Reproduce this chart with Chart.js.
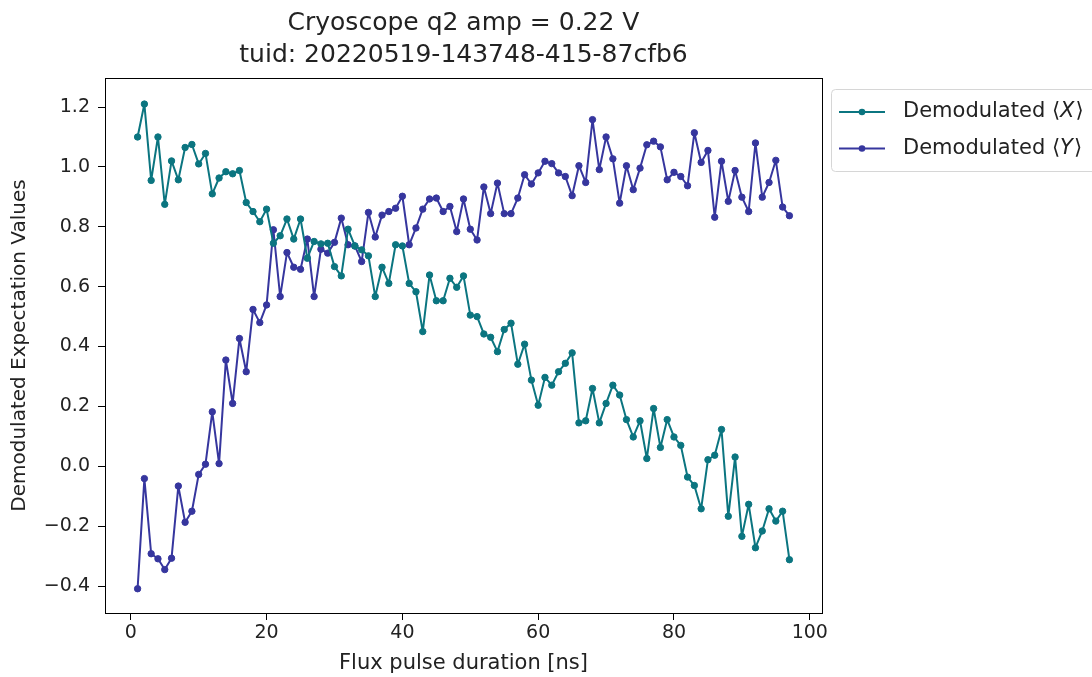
<!DOCTYPE html>
<html>
<head>
<meta charset="utf-8">
<script src="https://cdn.jsdelivr.net/npm/chart.js@4"></script>
<style>
    html, body { margin: 0; padding: 0; background: #fff; }
    #wrap { width: 1092px; height: 677px; }
</style>
</head>
<body>
<div id="wrap"><canvas id="cryoChart" width="1092" height="677"></canvas></div>
<script>
// Flux pulse durations (ns)
const durations = [];
for (let n = 1; n <= 97; n++) durations.push(n);

// Demodulated <X>
const demodX = [
    1.10, 1.21, 0.955, 1.10, 0.875, 1.02, 0.957, 1.065, 1.075, 1.01,
    1.045, 0.91, 0.963, 0.984, 0.977, 0.988, 0.881, 0.851, 0.817, 0.859,
    0.745, 0.77, 0.826, 0.759, 0.826, 0.695, 0.751, 0.743, 0.745, 0.667,
    0.636, 0.792, 0.736, 0.723, 0.703, 0.567, 0.665, 0.611, 0.74, 0.736,
    0.611, 0.583, 0.45, 0.639, 0.553, 0.553, 0.628, 0.598, 0.636, 0.505,
    0.50, 0.442, 0.431, 0.383, 0.457, 0.478, 0.341, 0.408, 0.288, 0.204,
    0.297, 0.271, 0.316, 0.344, 0.379, 0.145, 0.152, 0.26, 0.145, 0.21,
    0.271, 0.238, 0.156, 0.098, 0.152, 0.026, 0.193, 0.063, 0.156, 0.098,
    0.07, -0.036, -0.064, -0.142, 0.022, 0.037, 0.123, -0.167, 0.031, -0.234,
    -0.127, -0.272, -0.216, -0.142, -0.183, -0.15, -0.312
];

// Demodulated <Y>
const demodY = [
    -0.409, -0.041, -0.292, -0.309, -0.345, -0.307, -0.066, -0.187, -0.15, -0.027,
    0.007, 0.182, 0.009, 0.355, 0.21, 0.427, 0.316, 0.524, 0.48, 0.539,
    0.79, 0.567, 0.714, 0.665, 0.658, 0.759, 0.567, 0.725, 0.712, 0.748,
    0.829, 0.74, 0.736, 0.684, 0.848, 0.766, 0.839, 0.851, 0.862, 0.902,
    0.74, 0.796, 0.859, 0.893, 0.896, 0.851, 0.868, 0.784, 0.893, 0.792,
    0.756, 0.933, 0.844, 0.946, 0.844, 0.844, 0.896, 0.974, 0.943, 0.98,
    1.019, 1.011, 0.98, 0.968, 0.904, 1.004, 0.948, 1.158, 0.991, 1.10,
    1.027, 0.879, 1.004, 0.924, 0.996, 1.074, 1.086, 1.067, 0.957, 0.982,
    0.968, 0.937, 1.114, 1.015, 1.055, 0.832, 1.019, 0.885, 0.988, 0.899,
    0.851, 1.08, 0.899, 0.948, 1.022, 0.866, 0.837
];

const xTicks = [0, 20, 40, 60, 80, 100];
const yTicks = [-0.4, -0.2, 0.0, 0.2, 0.4, 0.6, 0.8, 1.0, 1.2];

const titleLines = ['Cryoscope q2 amp = 0.22 V', 'tuid: 20220519-143748-415-87cfb6'];
const seriesNames = ['X', 'Y'];
const seriesColors = ['#0b7580', '#36369e'];

const FONT = '"DejaVu Sans", sans-serif';
const TEXT = '#222';

// frame, two-line title and the legend outside the axes
const decorations = {
    id: 'decorations',
    afterDraw(chart) {
        const ctx = chart.ctx;
        const a = chart.chartArea;
        ctx.save();

        ctx.strokeStyle = '#000';
        ctx.lineWidth = 1;
        ctx.strokeRect(Math.round(a.left) + 0.5, Math.round(a.top) + 0.5,
            Math.round(a.right - a.left), Math.round(a.bottom - a.top));

        ctx.fillStyle = TEXT;
        ctx.font = '25px ' + FONT;
        ctx.textAlign = 'center';
        ctx.textBaseline = 'alphabetic';
        const cx = (a.left + a.right) / 2;
        ctx.fillText(titleLines[0], cx, 30);
        ctx.fillText(titleLines[1], cx, 62);

        // legend box, runs off the right edge
        const bx = 831.5, by = 89.5, bw = 290, bh = 82, r = 4;
        ctx.beginPath();
        ctx.moveTo(bx + r, by);
        ctx.lineTo(bx + bw - r, by);
        ctx.arcTo(bx + bw, by, bx + bw, by + r, r);
        ctx.lineTo(bx + bw, by + bh - r);
        ctx.arcTo(bx + bw, by + bh, bx + bw - r, by + bh, r);
        ctx.lineTo(bx + r, by + bh);
        ctx.arcTo(bx, by + bh, bx, by + bh - r, r);
        ctx.lineTo(bx, by + r);
        ctx.arcTo(bx, by, bx + r, by, r);
        ctx.closePath();
        ctx.fillStyle = 'rgba(255,255,255,0.8)';
        ctx.fill();
        ctx.strokeStyle = '#d6d6d6';
        ctx.stroke();

        seriesNames.forEach((name, i) => {
            const ly = 112 + i * 36.5;
            ctx.strokeStyle = seriesColors[i];
            ctx.lineWidth = 2;
            ctx.beginPath();
            ctx.moveTo(839, ly);
            ctx.lineTo(885, ly);
            ctx.stroke();
            ctx.fillStyle = seriesColors[i];
            ctx.beginPath();
            ctx.arc(862, ly, 3.3, 0, Math.PI * 2);
            ctx.fill();

            ctx.fillStyle = TEXT;
            ctx.textAlign = 'left';
            ctx.textBaseline = 'middle';
            let tx = 903;
            ctx.font = '21px ' + FONT;
            const pre = 'Demodulated \u27E8';
            ctx.fillText(pre, tx, ly);
            tx += ctx.measureText(pre).width;
            ctx.font = 'italic 21px ' + FONT;
            ctx.fillText(name, tx, ly);
            tx += ctx.measureText(name).width + 1;
            ctx.font = '21px ' + FONT;
            ctx.fillText('\u27E9', tx, ly);
        });

        ctx.restore();
    }
};

function makeDataset(values, color) {
    return {
        data: durations.map((d, i) => ({ x: d, y: values[i] })),
        borderColor: color,
        backgroundColor: color,
        borderWidth: 2,
        borderJoinStyle: 'round',
        borderCapStyle: 'round',
        pointRadius: 3.2,
        pointBorderWidth: 1,
        pointBorderColor: color,
        pointHoverRadius: 3.2,
        tension: 0
    };
}

const ctx = document.getElementById('cryoChart').getContext('2d');
new Chart(ctx, {
    type: 'line',
    data: {
        datasets: [
            makeDataset(demodX, seriesColors[0]),
            makeDataset(demodY, seriesColors[1])
        ]
    },
    options: {
        responsive: false,
        animation: false,
        layout: { padding: { top: 78, right: 270, left: 0, bottom: 0 } },
        plugins: {
            legend: { display: false },
            title: { display: false },
            tooltip: { enabled: false }
        },
        scales: {
            x: {
                type: 'linear',
                min: -3.8,
                max: 101.8,
                afterBuildTicks: s => { s.ticks = xTicks.map(v => ({ value: v })); },
                afterFit: s => { s.height = 64; },
                grid: { display: true, drawOnChartArea: false, drawTicks: true, tickLength: 7, color: '#000' },
                border: { display: true, color: '#000' },
                ticks: {
                    color: TEXT,
                    font: { family: FONT, size: 19 },
                    padding: 2,
                    maxRotation: 0,
                    callback: v => String(v)
                },
                title: {
                    display: true,
                    text: 'Flux pulse duration [ns]',
                    color: TEXT,
                    font: { family: FONT, size: 21 },
                    padding: { top: 0, bottom: 1 }
                }
            },
            y: {
                type: 'linear',
                min: -0.49,
                max: 1.297,
                afterBuildTicks: s => { s.ticks = yTicks.map(v => ({ value: v })); },
                afterFit: s => { s.width = 105; },
                grid: { display: true, drawOnChartArea: false, drawTicks: true, tickLength: 7, color: '#000' },
                border: { display: true, color: '#000' },
                ticks: {
                    color: TEXT,
                    font: { family: FONT, size: 19 },
                    padding: 8,
                    callback: v => v.toFixed(1).replace('-', '\u2212')
                },
                title: {
                    display: true,
                    text: 'Demodulated Expectation Values',
                    color: TEXT,
                    font: { family: FONT, size: 20 },
                    padding: { top: 8, bottom: 0 }
                }
            }
        }
    },
    plugins: [decorations]
});
</script>
</body>
</html>
